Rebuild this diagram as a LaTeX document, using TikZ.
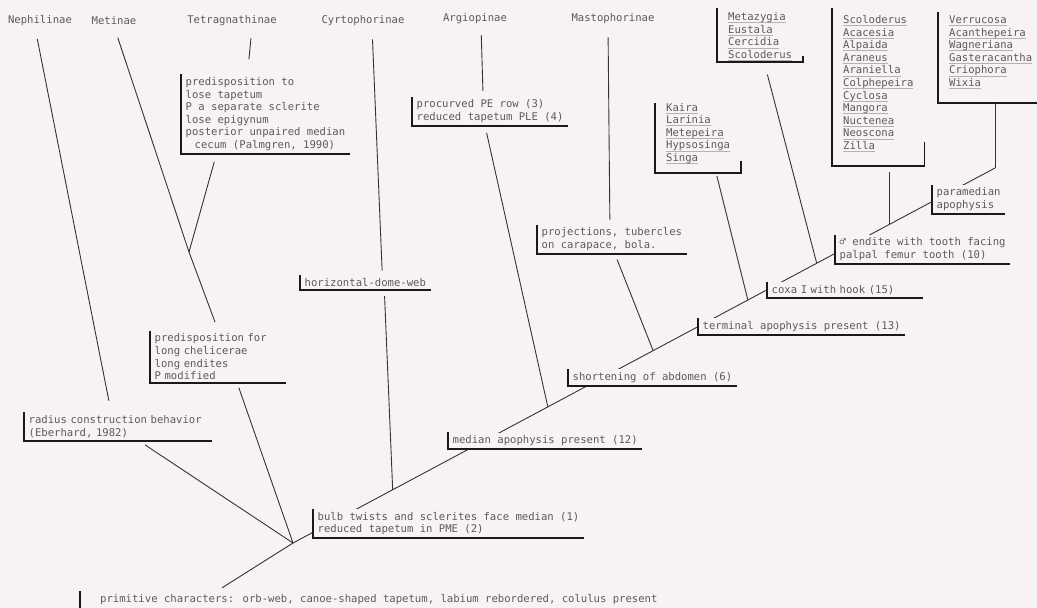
\documentclass[tikz,border=0pt]{standalone}
\usepackage{fontspec}
\newfontfamily\typewr{DejaVu Sans Mono}
\definecolor{paper}{RGB}{249,242,245}
\definecolor{ink}{RGB}{90,90,90}
\newlength\genwd
\newcommand\genus[1]{\settowidth\genwd{#1}\rlap{\color{black!30}\rule[-2.4pt]{\genwd}{0.6pt}}#1}

\begin{document}
\begin{tikzpicture}[x=1pt, y=-1pt,
    taxon/.style={font=\typewr\fontsize{10.6}{12.6}\selectfont, text=ink, inner sep=1pt},
    trait/.style={taxon, align=left, anchor=south west, inner xsep=4.5pt, inner ysep=3pt, fill=paper},
    genlist/.style={trait, inner xsep=11pt},
    bar/.style={line width=1.6pt, black!90},
    branch/.style={line width=0.9pt, black!80}]
        \useasboundingbox (0,0) rectangle (1037,608);
        \fill[paper] (0,0) rectangle (1037,608);

        % ~~~~ Eje ~~~~ %
        \coordinate (root) at (293,543);
        \coordinate (jver) at (995,168);
        \coordinate (jmt) at (189,252);
        \path (root) -- (jver) coordinate[pos=.142] (jcy) coordinate[pos=.363] (jarg)
            coordinate[pos=.513] (jmas) coordinate[pos=.648] (jkai)
            coordinate[pos=.746] (jmz) coordinate[pos=.849] (jsc);
        \draw[branch] (root) -- (jver);

        % ~~~~ Subfamilias ~~~~ %
        \node[taxon] (neph) at (40,21) {Nephilinae};
        \node[taxon] (met) at (114,21) {Metinae};
        \node[taxon] (tet) at (232,21) {Tetragnathinae};
        \node[taxon] (cyr) at (363,21) {Cyrtophorinae};
        \node[taxon] (arg) at (475,19) {Argiopinae};
        \node[taxon] (mas) at (613,19) {Mastophorinae};

        % ~~~~ Caracteres ~~~~ %
        \node[trait] (tapet) at (181,154) {predisposition to\\lose tapetum\\P a separate sclerite\\lose epigynum\\posterior unpaired median\\\hspace*{9pt}cecum (Palmgren, 1990)};
        \node[trait, text width=127pt] (chel) at (150,383) {predisposition for\\long chelicerae\\long endites\\P modified};
        \node[trait, text width=179pt] (web) at (24,441) {radius construction behavior\\(Eberhard, 1982)};
        \node[trait] (bulb) at (313,538) {bulb twists and sclerites face median (1)\\reduced tapetum in PME (2)};
        \node[trait] (dome) at (300,290) {horizontal-dome-web};
        \node[trait] (proc) at (412,126) {procurved PE row (3)\\reduced tapetum PLE (4)};
        \node[trait] (med) at (448,449) {median apophysis present (12)};
        \node[trait] (proj) at (537,254) {projections, tubercles\\on carapace, bola.};
        \node[trait] (short) at (568,386) {shortening of abdomen (6)};
        \node[trait] (term) at (698,335) {terminal apophysis present (13)};
        \node[trait, text width=147pt] (coxa) at (767,298) {coxa I with hook (15)};
        \node[trait] (endi) at (835,264) {♂ endite with tooth facing\\palpal femur tooth (10)};
        \node[trait] (para) at (932,214) {paramedian\\apophysis};
        \node[trait, anchor=north west, inner xsep=20pt, text depth=20pt] (prim) at (80,591)
            {primitive characters: orb-web, canoe-shaped tapetum, labium rebordered, colulus present};
        \foreach \b in {tapet,chel,web,bulb,dome,proc,med,proj,short,term,coxa,endi,para,prim}
            \draw[bar] (\b.north west) |- (\b.south east);

        % ~~~~ Generos ~~~~ %
        \node[genlist, inner ysep=1pt] (mz) at (717,62)
            {\genus{Metazygia}\\\genus{Eustala}\\\genus{Cercidia}\\\genus{Scoloderus}};
        \node[genlist, inner ysep=14pt] (sc) at (832,166)
            {\genus{Scoloderus}\\\genus{Acacesia}\\\genus{Alpaida}\\\genus{Araneus}\\\genus{Araniella}\\\genus{Colphepeira}\\\genus{Cyclosa}\\\genus{Mangora}\\\genus{Nuctenea}\\\genus{Neoscona}\\\genus{Zilla}};
        \node[genlist, inner ysep=14pt] (ver) at (938,103)
            {\genus{Verrucosa}\\\genus{Acanthepeira}\\\genus{Wagneriana}\\\genus{Gasteracantha}\\\genus{Criophora}\\\genus{Wixia}};
        \node[genlist, inner ysep=9pt] (kai) at (655,173)
            {\genus{Kaira}\\\genus{Larinia}\\\genus{Metepeira}\\\genus{Hypsosinga}\\\genus{Singa}};
        \foreach \g/\x/\top/\tick in {mz/717/8/6,sc/832/8/24,ver/938/12/0,kai/655/103/12}
            \draw[bar] (\x,\top) -- (\g.south west) -- (\g.south east) -- ++(0,-\tick);

        % ~~~~ Ramas ~~~~ %
        \draw[branch, shorten <=12pt, shorten >=12pt] ([xshift=-5pt]neph.south) -- ([xshift=-7pt]web.north);
        \draw[branch, shorten <=7pt] ([xshift=21pt]web.south) -- (root);
        \draw[branch, shorten <=12pt, shorten >=9pt] (met.south) -- (jmt) -- (chel.north);
        \draw[branch, shorten <=11pt, shorten >=15pt] ([xshift=20pt]tet.south) -- ([xshift=-18pt]tapet.north);
        \draw[branch, shorten <=8pt] ([xshift=-49pt]tapet.south) -- (jmt);
        \draw[branch, shorten <=5pt] ([xshift=19pt]chel.south) -- (root);
        \draw[branch, shorten >=6pt] (root) -- ([xshift=137pt]prim.north west);
        \draw[branch, shorten <=12pt, shorten >=5pt] ([xshift=9pt]cyr.south) -- ([xshift=17pt]dome.north);
        \draw[branch, shorten <=6pt] ([xshift=19pt]dome.south) -- (jcy);
        \draw[branch, shorten <=10pt, shorten >=6pt] ([xshift=6pt]arg.south) -- ([xshift=-7pt]proc.north);
        \draw[branch, shorten <=7pt] ([xshift=-5pt]proc.south) -- (jarg);
        \draw[branch, shorten <=12pt, shorten >=5pt] ([xshift=-5pt]mas.south) -- ([xshift=-2pt]proj.north);
        \draw[branch, shorten <=6pt] ([xshift=3pt]proj.south) -- (jmas);
        \draw[branch, shorten <=3pt] ([xshift=18pt]kai.south) -- (jkai);
        \draw[branch, shorten <=13pt] ([xshift=4pt]mz.south) -- (jmz);
        \draw[branch, shorten <=6pt] (sc.south -| jsc) -- (jsc);
        \draw[branch] (jver) -- (ver.south -| jver);
    \end{tikzpicture}
\end{document}
